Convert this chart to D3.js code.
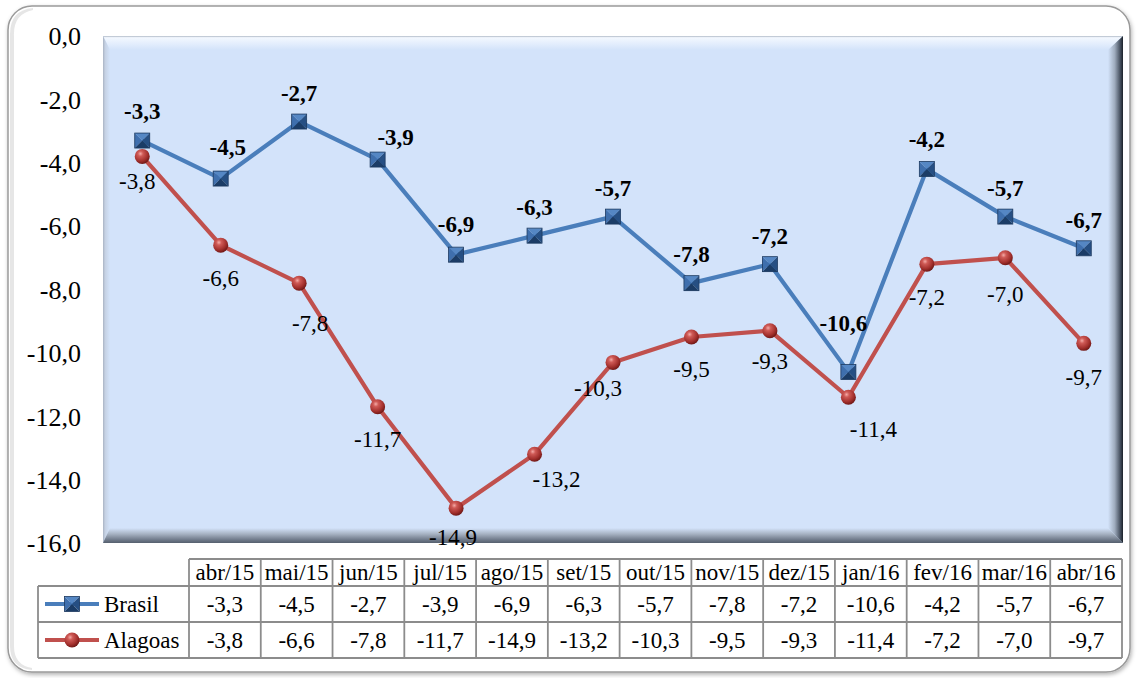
<!DOCTYPE html>
<html><head><meta charset="utf-8">
<script src="https://cdn.jsdelivr.net/npm/d3@7"></script>
<style>html,body{margin:0;padding:0;background:#fff;}svg{display:block;} svg text{font-family:"Liberation Serif","Tinos","DejaVu Serif",serif;}</style>
</head><body>
<script>
const categories = ["abr/15","mai/15","jun/15","jul/15","ago/15","set/15","out/15","nov/15","dez/15","jan/16","fev/16","mar/16","abr/16"];
const brasil = [-3.3,-4.5,-2.7,-3.9,-6.9,-6.3,-5.7,-7.8,-7.2,-10.6,-4.2,-5.7,-6.7];
const alagoas = [-3.8,-6.6,-7.8,-11.7,-14.9,-13.2,-10.3,-9.5,-9.3,-11.4,-7.2,-7.0,-9.7];
const seriesNames = ["Brasil","Alagoas"];
const yTicks = [0,-2,-4,-6,-8,-10,-12,-14,-16];
// label nudges (px) relative to default placement
const brasilNudge = [[0,0],[7,-2],[0,1],[18,7],[0,-1],[0,1],[0,1],[0,0],[0,1],[-5,-19],[0,-1],[0,1],[0,1]];
const alagoasNudge = [[-5,-7],[0,1],[11,8],[0,1],[-3,-3],[22,-7],[-15,-6],[0,0],[0,-1],[25,0],[0,1],[0,5],[0,2]];

const W = 1137, H = 678;
const FONT = "'Liberation Serif', Tinos, 'DejaVu Serif', serif";
const loc = d3.formatLocale({decimal:",", thousands:".", grouping:[3], currency:["R$",""], minus:"-"});
const fmt = loc.format(".1f");

const svg = d3.select("body").append("svg").attr("width", W).attr("height", H)
  .attr("font-family", FONT);
const defs = svg.append("defs");

function lin(id, x1, y1, x2, y2, stops) {
  const g = defs.append("linearGradient").attr("id", id)
    .attr("x1", x1).attr("y1", y1).attr("x2", x2).attr("y2", y2);
  stops.forEach(s => g.append("stop").attr("offset", s[0]).attr("stop-color", s[1]));
}
lin("gTop", 0, 0, 0, 1, [[0,"#aeb8c6"],[0.12,"#f3f8ff"],[1,"#d3e3fa"]]);
lin("gLeft", 0, 0, 1, 0, [[0,"#a9b3c3"],[0.3,"#c5d1e3"],[1,"#d3e3fa"]]);
lin("gRight", 0, 0, 1, 0, [[0,"#d3e3fa"],[0.45,"#9eabbd"],[0.85,"#3d4756"],[1,"#1b2129"]]);
lin("gBottom", 0, 0, 0, 1, [[0,"#d3e3fa"],[0.4,"#a6b2c2"],[0.8,"#6d7888"],[1,"#56606e"]]);
const rg = defs.append("radialGradient").attr("id", "gBall").attr("cx", "0.38").attr("cy", "0.32").attr("r", "0.7");
[[0,"#f4aaa6"],[0.25,"#cf5a56"],[0.7,"#a3302d"],[1,"#6e1715"]].forEach(s => rg.append("stop").attr("offset", s[0]).attr("stop-color", s[1]));
const flt = defs.append("filter").attr("id", "shadow").attr("x", "-5%").attr("y", "-5%").attr("width", "110%").attr("height", "110%");
flt.append("feDropShadow").attr("dx", 1).attr("dy", 2).attr("stdDeviation", 2).attr("flood-color", "#000").attr("flood-opacity", 0.3);

// outer chart frame
svg.append("rect").attr("x", 8).attr("y", 6).attr("width", 1122).attr("height", 666)
  .attr("rx", 24).attr("ry", 24).attr("fill", "#fff").attr("stroke", "#9a9a9a").attr("stroke-width", 1.5)
  .attr("filter", "url(#shadow)");
svg.append("path").attr("d", "M10,34 Q10,10 33,8 L33,10 Q13,14 14,36 L14,646 Q14,665 32,668 L32,670 Q10,668 10,646 Z")
  .attr("fill", "#d6d6d6").attr("opacity", 0.6);

// plot area
const px0 = 103, px1 = 1123, py0 = 36, py1 = 543;
const bT = 14, bL = 7, bR = 15, bB = 15;
const x = d3.scalePoint().domain(categories).range([px0, px1]).padding(0.5);
const y = d3.scaleLinear().domain([0, -16]).range([py0, py1]);

svg.append("rect").attr("x", px0).attr("y", py0).attr("width", px1 - px0).attr("height", py1 - py0).attr("fill", "#d3e3fa");
const poly = pts => "M" + pts.map(p => p.join(",")).join("L") + "Z";
svg.append("path").attr("d", poly([[px0,py0],[px1,py0],[px1-bR,py0+bT],[px0+bL,py0+bT]])).attr("fill", "url(#gTop)");
svg.append("path").attr("d", poly([[px0,py0],[px0+bL,py0+bT],[px0+bL,py1-bB],[px0,py1]])).attr("fill", "url(#gLeft)");
svg.append("path").attr("d", poly([[px0,py1],[px1,py1],[px1-bR,py1-bB],[px0+bL,py1-bB]])).attr("fill", "url(#gBottom)");
svg.append("path").attr("d", poly([[px1,py0],[px1,py1],[px1-bR,py1-bB],[px1-bR,py0+bT]])).attr("fill", "url(#gRight)");

// y axis labels
svg.append("g").selectAll("text").data(yTicks).join("text")
  .attr("x", 81).attr("y", d => y(d)).attr("dy", "0.36em")
  .attr("text-anchor", "end").attr("font-size", 26).attr("fill", "#000").attr("font-family", FONT)
  .text(d => fmt(d));

// lines
const line = d3.line().x((d, i) => x(categories[i])).y(d => y(d));
svg.append("path").datum(alagoas).attr("d", line).attr("fill", "none").attr("stroke", "#c0504d").attr("stroke-width", 4.2).attr("stroke-linejoin", "round");
svg.append("path").datum(brasil).attr("d", line).attr("fill", "none").attr("stroke", "#4a7ebb").attr("stroke-width", 4.2).attr("stroke-linejoin", "round");

function squareMarker(g, cx, cy, s) {
  const h = s / 2;
  const c = [cx, cy], tl = [cx-h, cy-h], tr = [cx+h, cy-h], br = [cx+h, cy+h], bl = [cx-h, cy+h];
  g.append("path").attr("d", poly([tl, tr, c])).attr("fill", "#5587c4");
  g.append("path").attr("d", poly([tl, bl, c])).attr("fill", "#3f6fad");
  g.append("path").attr("d", poly([tr, br, c])).attr("fill", "#264f83");
  g.append("path").attr("d", poly([bl, br, c])).attr("fill", "#1b3c66");
  g.append("rect").attr("x", cx-h).attr("y", cy-h).attr("width", s).attr("height", s).attr("fill", "none").attr("stroke", "#1d3a60").attr("stroke-width", 0.8);
}
function ballMarker(g, cx, cy, r) {
  g.append("circle").attr("cx", cx).attr("cy", cy).attr("r", r).attr("fill", "url(#gBall)");
}
const mA = svg.append("g");
alagoas.forEach((v, i) => ballMarker(mA, x(categories[i]), y(v), 7.5));
const mB = svg.append("g");
brasil.forEach((v, i) => squareMarker(mB, x(categories[i]), y(v), 15));

// data labels
svg.append("g").selectAll("text").data(brasil).join("text")
  .attr("x", (d, i) => x(categories[i]) + brasilNudge[i][0])
  .attr("y", (d, i) => y(d) - 29 + brasilNudge[i][1]).attr("dy", "0.33em")
  .attr("text-anchor", "middle").attr("font-size", 23).attr("font-weight", "bold").attr("fill", "#000").attr("font-family", FONT)
  .text(d => fmt(d));
svg.append("g").selectAll("text").data(alagoas).join("text")
  .attr("x", (d, i) => x(categories[i]) + alagoasNudge[i][0])
  .attr("y", (d, i) => y(d) + 32 + alagoasNudge[i][1]).attr("dy", "0.33em")
  .attr("text-anchor", "middle").attr("font-size", 23).attr("fill", "#000").attr("font-family", FONT)
  .text(d => fmt(d));

// data table
const tx0 = 38, tx1 = 189, tx2 = 1122;
const colW = (tx2 - tx1) / categories.length;
const ry = [559, 586, 622, 658];
const tg = svg.append("g").attr("font-family", FONT);
const gridC = "#8c8c8c", gridW = 1.8;
tg.append("line").attr("x1", tx1).attr("x2", tx2).attr("y1", ry[0]).attr("y2", ry[0]);
tg.append("line").attr("x1", tx0).attr("x2", tx2).attr("y1", ry[1]).attr("y2", ry[1]);
tg.append("line").attr("x1", tx0).attr("x2", tx2).attr("y1", ry[2]).attr("y2", ry[2]);
tg.append("line").attr("x1", tx0).attr("x2", tx2).attr("y1", ry[3]).attr("y2", ry[3]);
tg.append("line").attr("x1", tx0).attr("x2", tx0).attr("y1", ry[1]).attr("y2", ry[3]);
d3.range(categories.length + 1).forEach(i => {
  tg.append("line").attr("x1", tx1 + i * colW).attr("x2", tx1 + i * colW).attr("y1", ry[0]).attr("y2", ry[3]);
});
tg.selectAll("line").attr("stroke", gridC).attr("stroke-width", gridW);

tg.selectAll("text.h").data(categories).join("text").attr("class", "h")
  .attr("x", (d, i) => tx1 + (i + 0.5) * colW).attr("y", (ry[0] + ry[1]) / 2).attr("dy", "0.33em")
  .attr("text-anchor", "middle").attr("font-size", 23).attr("font-family", FONT).text(d => d);
[brasil, alagoas].forEach((arr, r) => {
  tg.selectAll("text.r" + r).data(arr).join("text").attr("class", "r" + r)
    .attr("x", (d, i) => tx1 + (i + 0.5) * colW).attr("y", (ry[r + 1] + ry[r + 2]) / 2).attr("dy", "0.36em")
    .attr("text-anchor", "middle").attr("font-size", 23).attr("font-family", FONT).text(d => fmt(d));
});
seriesNames.forEach((name, r) => {
  const cy = (ry[r + 1] + ry[r + 2]) / 2;
  tg.append("line").attr("x1", 45).attr("x2", 99).attr("y1", cy).attr("y2", cy)
    .attr("stroke", r === 0 ? "#4a7ebb" : "#c0504d").attr("stroke-width", 4.2);
  if (r === 0) squareMarker(tg, 72, cy, 15); else ballMarker(tg, 72, cy, 7.5);
  tg.append("text").attr("x", 104).attr("y", cy).attr("dy", "0.36em").attr("font-size", 23).attr("font-family", FONT).text(name);
});
</script>
</body></html>
